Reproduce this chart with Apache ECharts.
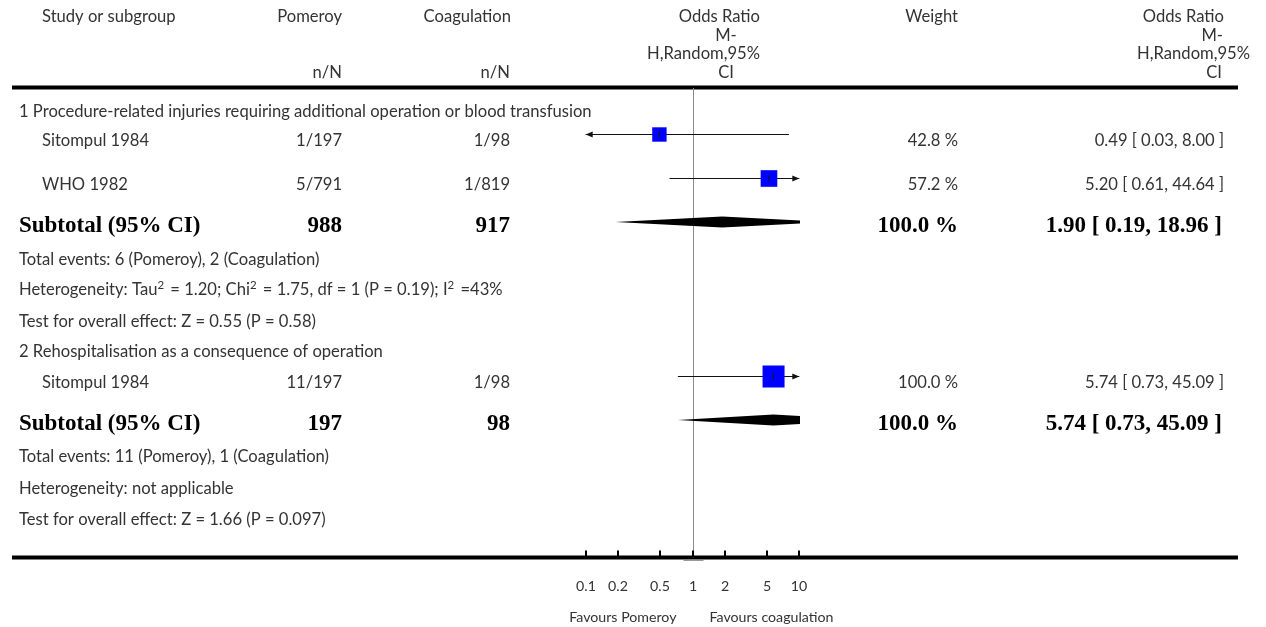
<!DOCTYPE html>
<html>
<head>
<meta charset="utf-8">
<script src="https://cdn.jsdelivr.net/npm/echarts@6/dist/echarts.min.js"></script>
<style>
html,body{margin:0;padding:0;background:#fff;}
#chart{width:1266px;height:627px;}
</style>
</head>
<body>
<div id="chart"></div>
<script>
// ---------------- DATA ----------------
const groupTitles = [
  '1 Procedure-related injuries requiring additional operation or blood transfusion',
  '2 Rehospitalisation as a consequence of operation'
];
const studyNames = ['Sitompul 1984', 'WHO 1982', 'Sitompul 1984'];
const studyGroup = [0, 0, 1];
const pomeroyNN = ['1/197', '5/791', '11/197'];
const coagulationNN = ['1/98', '1/819', '1/98'];
const studyOR = [0.49, 5.20, 5.74];
const studyLow = [0.03, 0.61, 0.73];
const studyHigh = [8.00, 44.64, 45.09];
const studyWeight = [42.8, 57.2, 100.0];

const subtotalPomeroyN = [988, 197];
const subtotalCoagulationN = [917, 98];
const subtotalOR = [1.90, 5.74];
const subtotalLow = [0.19, 0.73];
const subtotalHigh = [18.96, 45.09];
const subtotalWeight = [100.0, 100.0];

const totalEventsText = [
  'Total events: 6 (Pomeroy), 2 (Coagulation)',
  'Total events: 11 (Pomeroy), 1 (Coagulation)'
];
const heterogeneityText = [
  'Heterogeneity: Tau\u00b2 = 1.20; Chi\u00b2 = 1.75, df = 1 (P = 0.19); I\u00b2 =43%',
  'Heterogeneity: not applicable'
];
const overallEffectText = [
  'Test for overall effect: Z = 0.55 (P = 0.58)',
  'Test for overall effect: Z = 1.66 (P = 0.097)'
];
const tickValues = [0.1, 0.2, 0.5, 1, 2, 5, 10];
const tickLabels = ['0.1', '0.2', '0.5', '1', '2', '5', '10'];
const favoursLeft = 'Favours Pomeroy';
const favoursRight = 'Favours coagulation';

// ---------------- LAYOUT ----------------
const X_MIN = 0.1, X_MAX = 10;
const FONT = '"Lato", "Open Sans", sans-serif';
const NORMAL = '16.6px ' + FONT;
const SMALL = '14.2px ' + FONT;
const SUP = '11.5px ' + FONT;
const BOLD = 'bold 23px "Liberation Serif", "DejaVu Serif", serif';
const TXT = '#333';
const COL = { indentTitle: 19, indentStudy: 42, pomeroy: 342, coag: 510, weight: 958, orText: 1224 };
const AXIS_Y = 557.5;
const TEXT_DY = 1.5;
// vertical position of each table row (pixels from top)
const rows = [
  { kind: 'title', g: 0, y: 110 },
  { kind: 'study', i: 0, y: 134 },
  { kind: 'study', i: 1, y: 178 },
  { kind: 'subtotal', g: 0, y: 222 },
  { kind: 'note', text: totalEventsText[0], y: 258 },
  { kind: 'note', text: heterogeneityText[0], y: 289 },
  { kind: 'note', text: overallEffectText[0], y: 320 },
  { kind: 'title', g: 1, y: 350 },
  { kind: 'study', i: 2, y: 376 },
  { kind: 'subtotal', g: 1, y: 420 },
  { kind: 'note', text: totalEventsText[1], y: 455 },
  { kind: 'note', text: heterogeneityText[1], y: 487 },
  { kind: 'note', text: overallEffectText[1], y: 518 }
];
const studyRowY = studyNames.map((_, i) => rows.find(r => r.kind === 'study' && r.i === i).y);
const subtotalRowY = subtotalOR.map((_, g) => rows.find(r => r.kind === 'subtotal' && r.g === g).y);

function fmt(v) { return v.toFixed(2); }
function orLabel(o, l, h) { return fmt(o) + ' [ ' + fmt(l) + ', ' + fmt(h) + ' ]'; }
function txt(x, y, text, font, align, color) {
  return { type: 'text', x: x, y: y,
    style: { text: text, font: font, fill: color || TXT, align: align || 'left', verticalAlign: 'middle',
             textAlign: align || 'left', textVerticalAlign: 'middle' } };
}
function noteText(x, y, text) {
  if (text.indexOf('\u00b2') < 0) return txt(x, y, text, NORMAL);
  return { type: 'text', x: x, y: y - 0.5,
    style: { text: text.replace(/\u00b2/g, '{sup|2}'), font: NORMAL, fill: TXT,
      align: 'left', verticalAlign: 'middle', textAlign: 'left', textVerticalAlign: 'middle',
      rich: { sup: { font: SUP, fill: TXT, verticalAlign: 'middle', padding: [0, 2, 9, 0] } } } };
}

// ---------------- RENDERERS ----------------
function renderRow(params, api) {
  const r = rows[params.dataIndex];
  const y = api.coord([1, api.value(1)])[1] + TEXT_DY;
  const ch = [];
  if (r.kind === 'title') {
    ch.push(txt(COL.indentTitle, y, groupTitles[r.g], NORMAL));
  } else if (r.kind === 'note') {
    ch.push(noteText(COL.indentTitle, y, r.text));
  } else if (r.kind === 'study') {
    const i = r.i, ty = y + 5;
    ch.push(txt(COL.indentStudy, ty, studyNames[i], NORMAL));
    ch.push(txt(COL.pomeroy, ty, pomeroyNN[i], NORMAL, 'right'));
    ch.push(txt(COL.coag, ty, coagulationNN[i], NORMAL, 'right'));
    ch.push(txt(COL.weight, ty, studyWeight[i].toFixed(1) + ' %', NORMAL, 'right'));
    ch.push(txt(COL.orText, ty, orLabel(studyOR[i], studyLow[i], studyHigh[i]), NORMAL, 'right'));
  } else if (r.kind === 'subtotal') {
    const g = r.g, ty = y + 3;
    ch.push(txt(COL.indentTitle, ty, 'Subtotal (95% CI)', BOLD, 'left', '#000'));
    ch.push(txt(COL.pomeroy, ty, String(subtotalPomeroyN[g]), BOLD, 'right', '#000'));
    ch.push(txt(COL.coag, ty, String(subtotalCoagulationN[g]), BOLD, 'right', '#000'));
    ch.push(txt(COL.weight, ty, subtotalWeight[g].toFixed(1) + ' %', BOLD, 'right', '#000'));
    ch.push(txt(COL.orText - 2, ty, orLabel(subtotalOR[g], subtotalLow[g], subtotalHigh[g]), BOLD, 'right', '#000'));
  }
  return { type: 'group', children: ch };
}

function renderStudy(params, api) {
  const or = api.value(0), lo = api.value(1), hi = api.value(2), w = api.value(3), ry = api.value(4);
  const c = api.coord([or, ry]);
  const y = Math.round(c[1]) + 0.5;
  const xl = api.coord([Math.max(lo, X_MIN), ry])[0];
  const xh = api.coord([Math.min(hi, X_MAX), ry])[0];
  const s = 2.2 * Math.sqrt(w);
  const ch = [
    { type: 'line', shape: { x1: xl, y1: y, x2: xh, y2: y }, style: { stroke: '#111', lineWidth: 1 } },
    { type: 'rect', shape: { x: c[0] - s / 2, y: y - s / 2, width: s, height: s }, style: { fill: '#0000ff' } },
    { type: 'line', shape: { x1: c[0], y1: y - 3, x2: c[0], y2: y + 3 }, style: { stroke: '#111', lineWidth: 1 } }
  ];
  if (lo < X_MIN) ch.push({ type: 'polygon', shape: { points: [[xl, y], [xl + 7, y - 3], [xl + 7, y + 3]] }, style: { fill: '#111' } });
  if (hi > X_MAX) ch.push({ type: 'polygon', shape: { points: [[xh, y], [xh - 7, y - 3], [xh - 7, y + 3]] }, style: { fill: '#111' } });
  return { type: 'group', children: ch };
}

function renderDiamond(params, api) {
  const or = api.value(0), lo = api.value(1), hi = api.value(2), ry = api.value(3);
  const pl = api.coord([lo, ry]), pc = api.coord([or, ry]), pr = api.coord([hi, ry]);
  const h = 5.5;
  return { type: 'polygon',
    shape: { points: [[pl[0], pl[1]], [pc[0], pc[1] - h], [pr[0], pr[1]], [pc[0], pc[1] + h]] },
    style: { fill: '#000' } };
}

function renderTick(params, api) {
  const p = api.coord([api.value(0), AXIS_Y]);
  const x = Math.round(p[0]);
  return { type: 'group', children: [
    { type: 'line', shape: { x1: x, y1: p[1] - 7, x2: x, y2: p[1] }, style: { stroke: '#000', lineWidth: 2 } },
    txt(x, p[1] + 29, tickLabels[params.dataIndex], SMALL, 'center', '#333')
  ] };
}

function renderRef(params, api) {
  const top = api.coord([api.value(0), 88]);
  const bot = api.coord([api.value(0), AXIS_Y]);
  const x = Math.round(top[0]) + 0.5;
  return { type: 'group', children: [
    { type: 'line', shape: { x1: x, y1: top[1], x2: x, y2: bot[1] }, style: { stroke: '#8a8a8a', lineWidth: 1 } },
    { type: 'line', shape: { x1: x - 10, y1: bot[1] + 3, x2: x + 10, y2: bot[1] + 3 }, style: { stroke: '#9a9a9a', lineWidth: 1 } },
    txt(x - 17, bot[1] + 60, favoursLeft, SMALL, 'right', '#333'),
    txt(x + 16, bot[1] + 60, favoursRight, SMALL, 'left', '#333')
  ] };
}

// ---------------- CHART ----------------
const chart = echarts.init(document.getElementById('chart'), null, { renderer: 'canvas' });
const HEAD_FONT = NORMAL;
const H = [17, 35.5, 54, 72.5];
const graphic = [
  { type: 'rect', shape: { x: 12, y: 85.5, width: 1226, height: 4 }, style: { fill: '#000' } },
  { type: 'rect', shape: { x: 12, y: 555.5, width: 1226, height: 4 }, style: { fill: '#000' } },
  txt(42, H[0], 'Study or subgroup', HEAD_FONT),
  txt(342, H[0], 'Pomeroy', HEAD_FONT, 'right'),
  txt(342, H[3], 'n/N', HEAD_FONT, 'right'),
  txt(511, H[0], 'Coagulation', HEAD_FONT, 'right'),
  txt(510, H[3], 'n/N', HEAD_FONT, 'right'),
  txt(760, H[0], 'Odds Ratio', HEAD_FONT, 'right'),
  txt(726, H[1], 'M-', HEAD_FONT, 'center'),
  txt(760, H[2], 'H,Random,95%', HEAD_FONT, 'right'),
  txt(726, H[3], 'CI', HEAD_FONT, 'center'),
  txt(958, H[0], 'Weight', HEAD_FONT, 'right'),
  txt(1224, H[0], 'Odds Ratio', HEAD_FONT, 'right'),
  txt(1223, H[1], 'M-', HEAD_FONT, 'right'),
  txt(1250, H[2], 'H,Random,95%', HEAD_FONT, 'right'),
  txt(1222, H[3], 'CI', HEAD_FONT, 'right')
];

chart.setOption({
  animation: false,
  backgroundColor: '#fff',
  grid: { left: 585.7, right: 1266 - 799.3, top: 0, bottom: 0, containLabel: false },
  xAxis: { type: 'log', logBase: 10, min: X_MIN, max: X_MAX, show: false },
  yAxis: { type: 'value', min: 0, max: 627, inverse: true, show: false },
  graphic: graphic,
  series: [
    { type: 'custom', name: 'ref', renderItem: renderRef, clip: false, data: [[1]], z: 1 },
    { type: 'custom', name: 'ticks', renderItem: renderTick, clip: false, data: tickValues.map(v => [v]), z: 3 },
    { type: 'custom', name: 'studies', renderItem: renderStudy, clip: false, z: 4,
      data: studyOR.map((v, i) => [v, studyLow[i], studyHigh[i], studyWeight[i], studyRowY[i]]) },
    { type: 'custom', name: 'subtotals', renderItem: renderDiamond, clip: true, z: 4,
      data: subtotalOR.map((v, g) => [v, subtotalLow[g], subtotalHigh[g], subtotalRowY[g]]) },
    { type: 'custom', name: 'rows', renderItem: renderRow, clip: false, z: 5,
      data: rows.map(r => [1, r.y]) }
  ]
});
</script>
</body>
</html>
